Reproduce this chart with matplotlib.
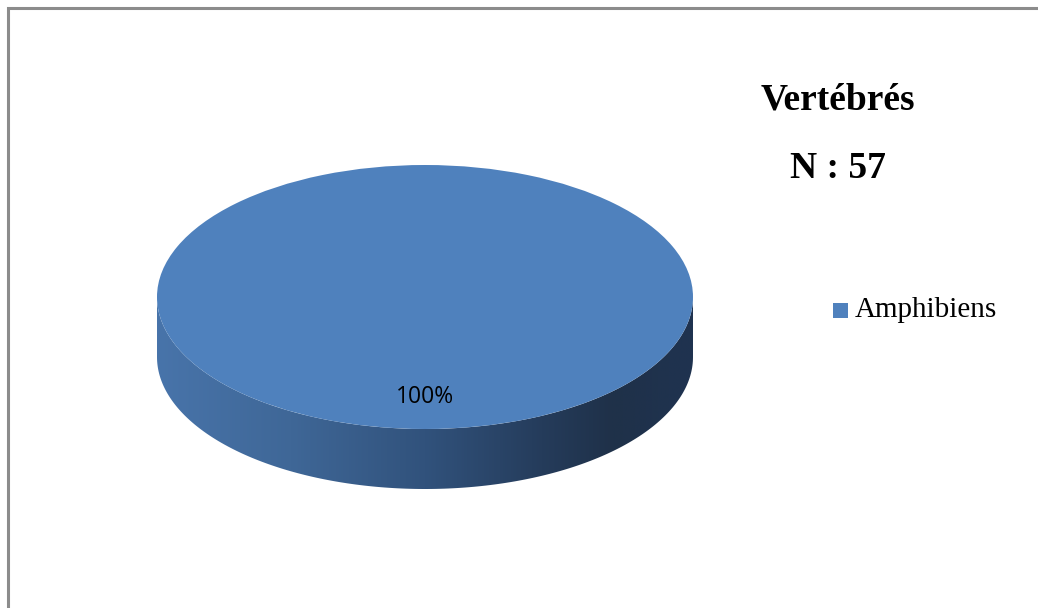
import numpy as np
import matplotlib.pyplot as plt
from matplotlib.colors import LinearSegmentedColormap
from matplotlib.patches import Polygon, Rectangle

# data
categories = ['Amphibiens']
values = [57]
title_lines = ['Vertébrés', 'N : 57']

TOP_COLOR = '#4F81BD'

W, H = 1038, 608
fig = plt.figure(figsize=(W / 100, H / 100), dpi=100)
fig.patch.set_facecolor('white')

# chart border (only left and top visible in the frame)
fig.patches.append(Rectangle((7.5 / W, -0.1), 1.2, (H - 7.5) / H + 0.1,
                             transform=fig.transFigure, fill=False,
                             edgecolor='#8c8c8c', linewidth=2.2))

# pie area: top ellipse rx=268, ry=132, side depth 60 px
rx, ry, depth = 268, 132, 60
cx, cy = 425, 297
d = depth / ry
ax = fig.add_axes([(cx - rx) / W, (H - (cy + ry + depth)) / H,
                   2 * rx / W, (2 * ry + depth) / H])

# side of the cylinder with left-to-right gradient
t = np.linspace(np.pi, 2 * np.pi, 200)
upper = np.column_stack([np.cos(t), np.sin(t)])
lower = np.column_stack([np.cos(t[::-1]), np.sin(t[::-1]) - d])
side = Polygon(np.vstack([upper, lower]), closed=True, facecolor='none',
               edgecolor='none')
ax.add_patch(side)
cmap = LinearSegmentedColormap.from_list('side', [
    (0.0, '#4874aa'), (0.25, '#3f6797'), (0.5, '#31527c'),
    (0.72, '#253c5b'), (0.85, '#1f3149'), (1.0, '#1f3350')])
grad = np.linspace(0, 1, 256).reshape(1, -1)
im = ax.imshow(grad, cmap=cmap, extent=[-1, 1, -1 - d, 0], aspect='auto',
               zorder=0)
im.set_clip_path(side)

# top face
wedges, texts, autotexts = ax.pie(values, colors=[TOP_COLOR], radius=1,
                                  startangle=90, autopct='%1.0f%%',
                                  pctdistance=0.76,
                                  wedgeprops=dict(linewidth=0),
                                  textprops=dict(fontsize=16.5,
                                                 family='Open Sans',
                                                 color='black'))
for w in wedges:
    w.set_zorder(2)
for a in autotexts:
    a.set_zorder(3)
ax.set_aspect('auto')
ax.set_xlim(-1, 1)
ax.set_ylim(-1 - d, 1)
ax.axis('off')

# title
fig.text(838 / W, 1 - 100 / H, title_lines[0], ha='center', va='center',
         family='Liberation Serif', fontweight='bold', fontsize=27)
fig.text(838 / W, 1 - 168 / H, title_lines[1], ha='center', va='center',
         family='Liberation Serif', fontweight='bold', fontsize=27)

# legend
fig.patches.append(Rectangle((833 / W, 1 - 318 / H), 15 / W, 15 / H,
                             transform=fig.transFigure, facecolor=TOP_COLOR,
                             edgecolor='none'))
fig.text(855 / W, 1 - 310 / H, categories[0], ha='left', va='center',
         family='Liberation Serif', fontsize=21)

fig.savefig('out.png', dpi=100)
